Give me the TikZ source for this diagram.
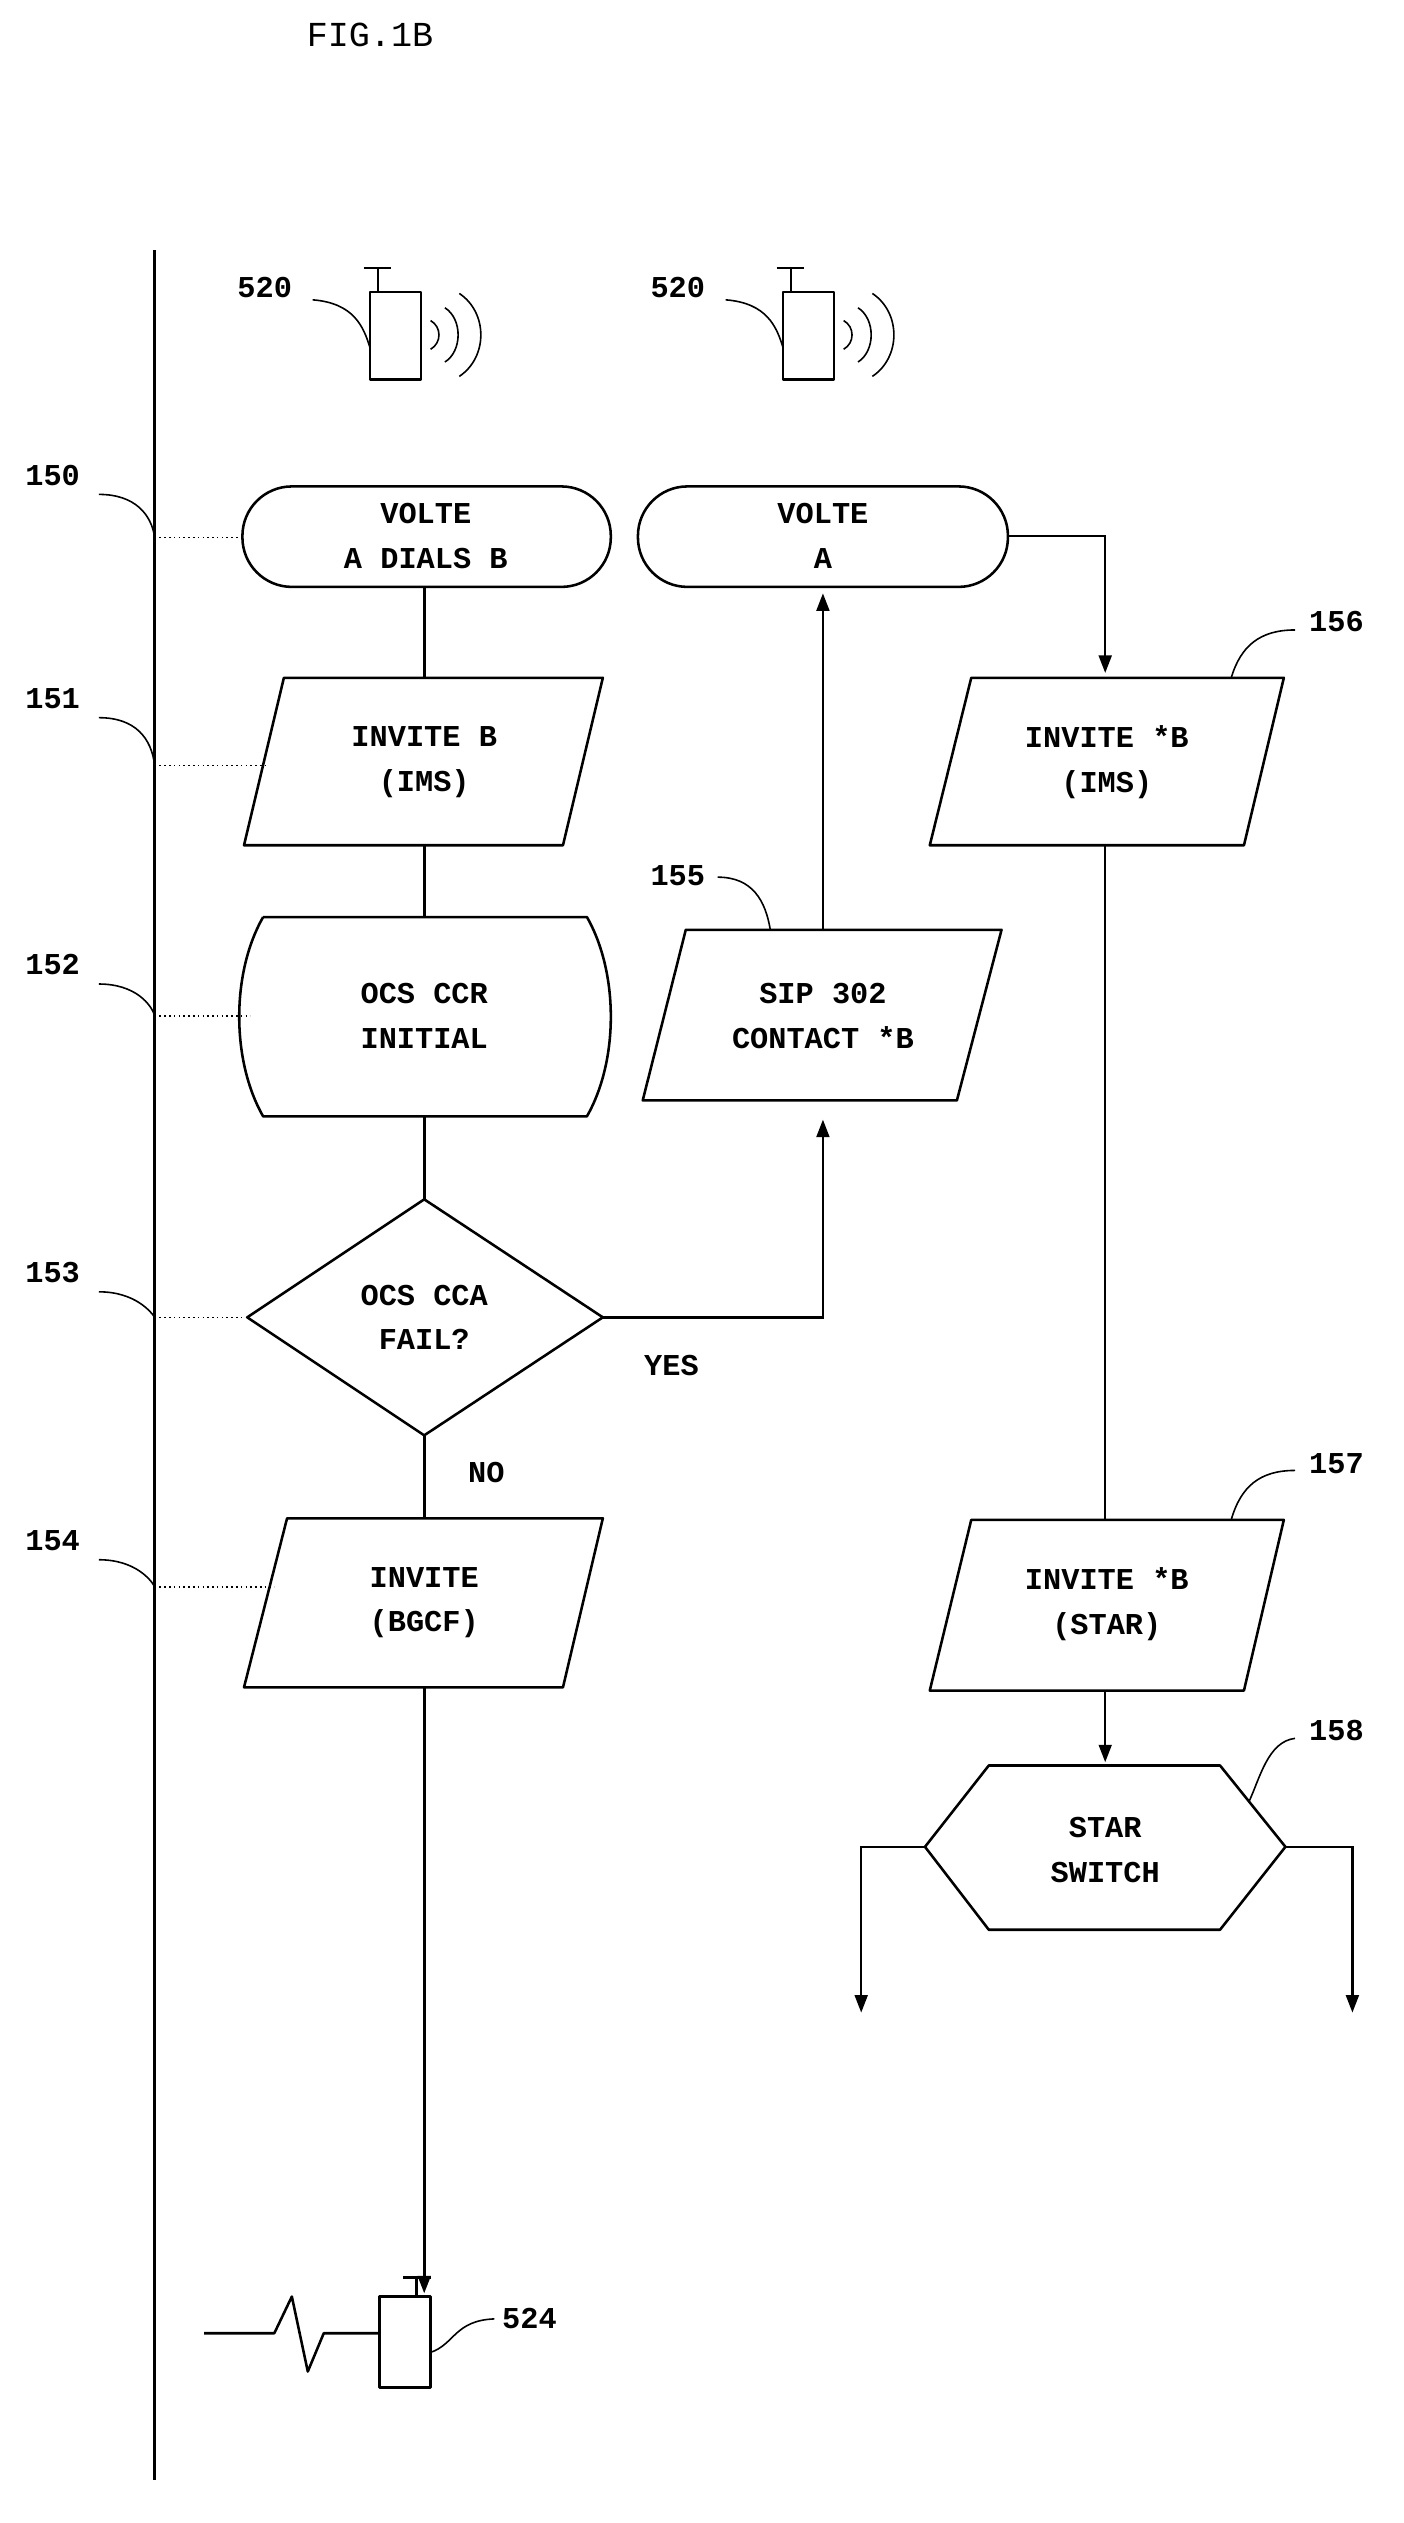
\documentclass[tikz,border=0pt]{standalone}
\usepackage{fontspec}
\setmonofont{Liberation Mono}
\usetikzlibrary{arrows.meta}
\begin{document}
\begin{tikzpicture}[x=1pt,y=-1pt,
  every node/.style={font=\ttfamily\bfseries\fontsize{19}{28}\selectfont,align=center},
  ln/.style={line width=1.6pt},
  box/.style={line width=1.6pt,line join=round},
  arr/.style={line width=1.6pt,-{Triangle[length=11pt,width=8pt]}},
  dot/.style={line width=1pt,dotted},
  lead/.style={line width=1pt}]
\useasboundingbox (0,0) rectangle (880,1582);
\node[font=\ttfamily\fontsize{22}{28}\selectfont] (fig) at (232,22) {FIG.1B};
\draw[ln] (97,157) -- (97,1555);
% phones
\foreach \x/\n in {0/p1,259/p2}{
 \begin{scope}[xshift=\x]
 \draw[box] (232,183) rectangle (264,238);
 \draw[box] (237,183) -- (237,168) (228,168) -- (245,168);
 \draw[lead] (270,201) .. controls (277,205) and (277,215) .. (270,219);
 \draw[lead] (279,193) .. controls (290,200) and (290,220) .. (279,227);
 \draw[lead] (288,184) .. controls (306,196) and (306,224) .. (288,236);
 \draw[lead] (196,188) .. controls (222,190) and (228,205) .. (232,218);
 \node at (166,180) {520};
 \end{scope}}
% nodes
\draw[box,rounded corners=31pt] (152,305) rectangle (383,368);
\node (n150) at (267,336) {VOLTE\\A DIALS B};
\draw[box,rounded corners=31pt] (400,305) rectangle (632,368);
\node (va) at (516,336) {VOLTE\\A};
\draw[box] (178,425) -- (378,425) -- (353,530) -- (153,530) -- cycle;
\node (n151) at (266,478) {INVITE B\\(IMS)};
\draw[box] (165,575) -- (368,575) .. controls (388,610) and (388,665) .. (368,700) -- (165,700) .. controls (145,665) and (145,610) .. (165,575);
\node (n152) at (266,637) {OCS CCR\\INITIAL};
\draw[box] (266,752) -- (378,826) -- (266,900) -- (155,826) -- cycle;
\node (n153) at (266,826) {OCS CCA\\FAIL?};
\draw[box] (180,952) -- (378,952) -- (353,1058) -- (153,1058) -- cycle;
\node (n154) at (266,1005) {INVITE\\(BGCF)};
\draw[box] (430,583) -- (628,583) -- (600,690) -- (403,690) -- cycle;
\node (n155) at (516,637) {SIP 302\\CONTACT *B};
\draw[box] (609,425) -- (805,425) -- (780,530) -- (583,530) -- cycle;
\node (n156) at (694,478) {INVITE *B\\(IMS)};
\draw[box] (609,953) -- (805,953) -- (780,1060) -- (583,1060) -- cycle;
\node (n157) at (694,1006) {INVITE *B\\(STAR)};
\draw[box] (620,1107) -- (765,1107) -- (806,1158) -- (765,1210) -- (620,1210) -- (580,1158) -- cycle;
\node (n158) at (693,1160) {STAR\\SWITCH};
% connectors
\draw[ln] (266,368) -- (266,425) (266,530) -- (266,575) (266,700) -- (266,752) (266,900) -- (266,952);
\node at (305,923) {NO};
\draw[arr] (378,826) -- (516,826) -- (516,702);
\node at (421,856) {YES};
\draw[arr] (516,583) -- (516,372);
\draw[arr] (632,336) -- (693,336) -- (693,422);
\draw[ln] (693,530) -- (693,953);
\draw[arr] (693,1060) -- (693,1105);
\draw[arr] (580,1158) -- (540,1158) -- (540,1262);
\draw[arr] (806,1158) -- (848,1158) -- (848,1262);
\draw[arr] (266,1058) -- (266,1438);
% bottom phone
\draw[box] (238,1440) rectangle (270,1497);
\draw[box] (261,1440) -- (261,1428) (253,1428) -- (270,1428);
\draw[box] (128,1463) -- (172,1463) -- (183,1440) -- (193,1487) -- (203,1463) -- (238,1463);
\draw[lead] (270,1475) .. controls (285,1470) and (285,1455) .. (310,1454);
\node at (332,1454) {524};
% dotted leaders + labels
\foreach \y/\xe/\l/\ly in {337/152/150/298, 480/168/151/438, 637/157/152/605, 826/155/153/798, 995/172/154/966}{
 \draw[dot] (97,\y) -- (\xe,\y);
 \draw[lead] (62,\ly+12) .. controls (85,\ly+12) and (95,\ly+25) .. (97,\y);
 \node at (33,\ly) {\l};
}
\draw[lead] (450,550) .. controls (472,550) and (480,565) .. (483,583);
\node at (425,549) {155};
\draw[lead] (812,395) .. controls (790,395) and (778,405) .. (772,425);
\node at (838,390) {156};
\draw[lead] (812,922) .. controls (790,922) and (778,932) .. (772,953);
\node at (838,918) {157};
\draw[lead] (812,1090) .. controls (795,1092) and (790,1115) .. (783,1130);
\node at (838,1085) {158};
\end{tikzpicture}
\end{document}
